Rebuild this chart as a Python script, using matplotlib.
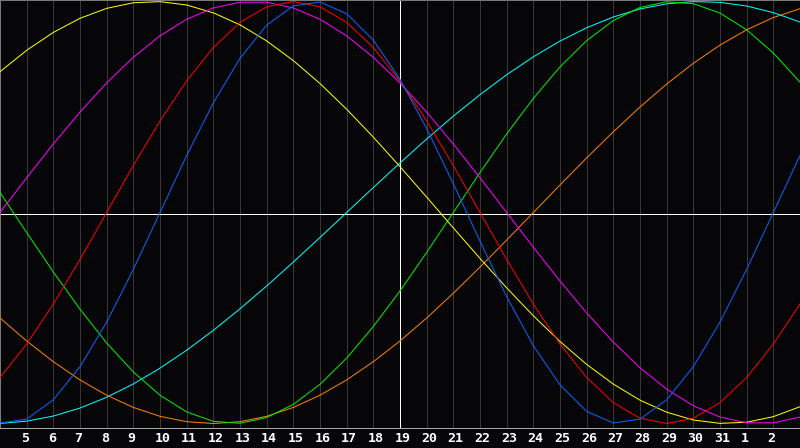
import matplotlib
matplotlib.use("Agg")
import matplotlib.pyplot as plt
import matplotlib.transforms as mtransforms

# day axis: 4 .. 34 (34 == the 3rd of next month), centre on day 19
DAYS = list(range(4, 35))
DAY_LABELS = [str(d) for d in range(5, 32)] + ["1", "2"]
LABEL_DAYS = list(range(5, 34))
CENTER_DAY = 19

# cycle values, one per day (days 4..34)
blue = [-0.9977, -0.9791, -0.8879, -0.7308, -0.5196, -0.2698, 0.0, 0.2698,
        0.5196, 0.7308, 0.8879, 0.9791, 0.9977, 0.9423, 0.8170, 0.6311,
        0.3984, 0.1362, -0.1362, -0.3984, -0.6311, -0.8170, -0.9423, -0.9977,
        -0.9791, -0.8879, -0.7308, -0.5196, -0.2698, 0.0, 0.2698]
red = [-0.7818, -0.6235, -0.4339, -0.2225, 0.0, 0.2225, 0.4339, 0.6235,
       0.7818, 0.9010, 0.9749, 1.0, 0.9749, 0.9010, 0.7818, 0.6235,
       0.4339, 0.2225, 0.0, -0.2225, -0.4339, -0.6235, -0.7818, -0.9010,
       -0.9749, -1.0, -0.9749, -0.9010, -0.7818, -0.6235, -0.4339]
green = [0.0951, -0.0951, -0.2817, -0.4582, -0.6182, -0.7557, -0.8660, -0.9450,
         -0.9898, -0.9989, -0.9718, -0.9096, -0.8146, -0.6901, -0.5406, -0.3717,
         -0.1893, 0.0, 0.1893, 0.3717, 0.5406, 0.6901, 0.8146, 0.9096,
         0.9718, 0.9989, 0.9898, 0.9450, 0.8660, 0.7557, 0.6182]
magenta = [0.0, 0.1646, 0.3247, 0.4759, 0.6142, 0.7357, 0.8372, 0.9158,
           0.9694, 0.9966, 0.9966, 0.9694, 0.9158, 0.8372, 0.7357, 0.6142,
           0.4759, 0.3247, 0.1646, 0.0, -0.1646, -0.3247, -0.4759, -0.6142,
           -0.7357, -0.8372, -0.9158, -0.9694, -0.9966, -0.9966, -0.9694]
yellow = [0.6673, 0.7687, 0.8536, 0.9203, 0.9675, 0.9940, 0.9993, 0.9834,
          0.9464, 0.8894, 0.8133, 0.7199, 0.6112, 0.4894, 0.3572, 0.2174,
          0.0730, -0.0730, -0.2174, -0.3572, -0.4894, -0.6112, -0.7199, -0.8133,
          -0.8894, -0.9464, -0.9834, -0.9993, -0.9940, -0.9675, -0.9203]
orange = [-0.5, -0.6088, -0.7071, -0.7934, -0.8660, -0.9239, -0.9659, -0.9914,
          -1.0, -0.9914, -0.9659, -0.9239, -0.8660, -0.7934, -0.7071, -0.6088,
          -0.5, -0.3827, -0.2588, -0.1305, 0.0, 0.1305, 0.2588, 0.3827,
          0.5, 0.6088, 0.7071, 0.7934, 0.8660, 0.9239, 0.9659]
cyan = [-0.9996, -0.9890, -0.9647, -0.9267, -0.8757, -0.8125, -0.7378, -0.6528,
        -0.5586, -0.4566, -0.3482, -0.2349, -0.1183, 0.0, 0.1183, 0.2349,
        0.3482, 0.4566, 0.5586, 0.6528, 0.7378, 0.8125, 0.8757, 0.9267,
        0.9647, 0.9890, 0.9996, 0.9961, 0.9786, 0.9473, 0.9028]

SERIES = [
    (cyan, "#00ffff"),
    (orange, "#ff8000"),
    (green, "#00ee00"),
    (yellow, "#ffff00"),
    (magenta, "#ff00ff"),
    (red, "#ff0000"),
    (blue, "#0a64ff"),
]

BG = "#060609"
PX = 72.0 / 100  # one pixel in points at dpi 100

fig = plt.figure(figsize=(8.0, 4.48), dpi=100, facecolor=BG)
ax = fig.add_axes([0, 20 / 448, 1, 428 / 448])
ax.set_facecolor(BG)
ax.set_xlim(4, 34)
ax.set_ylim(-1.0213, 1.0071)
ax.set_xticks([]); ax.set_yticks([])

for d in LABEL_DAYS:
    if d == CENTER_DAY:
        continue
    ax.axvline(d, color="#383838", lw=PX, antialiased=False, zorder=1)

ax.axvline(CENTER_DAY, color="white", lw=PX, antialiased=False, zorder=2)
ax.axhline(-0.007, color="white", lw=PX, antialiased=False, zorder=2)

for vals, col in SERIES:
    ax.plot(DAYS, vals, color=col, lw=PX, antialiased=True, zorder=3)

for side in ("left", "top", "right"):
    ax.spines[side].set_color("#7a7a7a")
    ax.spines[side].set_linewidth(PX)
ax.spines["bottom"].set_color("#a8a8a8")
ax.spines["bottom"].set_linewidth(PX)

trans = mtransforms.blended_transform_factory(ax.transData, ax.transAxes)
for d, lab in zip(LABEL_DAYS, DAY_LABELS):
    ax.text(d - 0.21, -0.025, lab, transform=trans, ha="left", va="center",
            color="white", fontsize=9.5, fontweight="bold",
            family="DejaVu Sans Mono", clip_on=False)

fig.savefig("out.png", dpi=100, facecolor=BG)
